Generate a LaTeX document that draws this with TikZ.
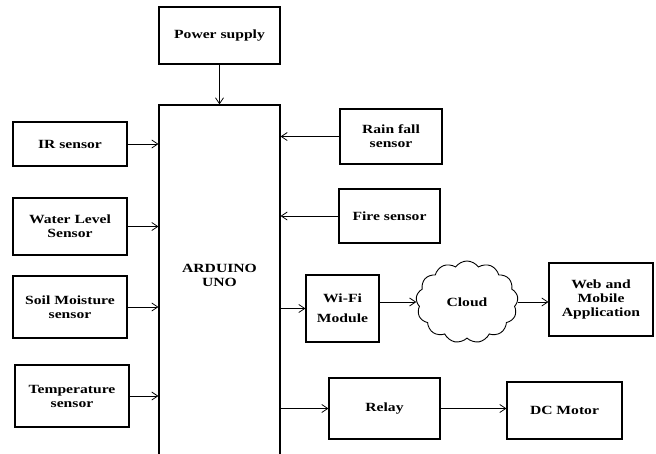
\documentclass[tikz,border=0pt]{standalone}
\usepackage{fontspec}
\setmainfont{Liberation Serif}[FakeStretch=1.25]
\usepackage{tikz}
\usetikzlibrary{shapes.symbols,arrows.meta}
\tikzstyle{blk} = [draw=black, line width=1.1pt, rectangle, align=center, font={\fontsize{12.5}{14}\selectfont\bfseries}, inner sep=2pt]
\tikzstyle{cld} = [draw=black, line width=0.9pt, cloud, cloud puffs=13, cloud puff arc=110, aspect=1.3, align=center, font={\fontsize{12.5}{14}\selectfont\bfseries}, inner sep=0pt]
\tikzstyle{sig} = [draw=black, line width=0.8pt, -{Straight Barb[length=6pt,width=8pt]}]

\begin{document}
\begin{tikzpicture}[x=1pt,y=-1pt]
        \useasboundingbox (0,0) rectangle (656,453);
        \node[blk,minimum width=121,minimum height=57](ps) at (219.5,35.5){Power supply};
        \node[blk,minimum width=121,minimum height=360,label={[align=center,font={\fontsize{12.5}{14}\selectfont\bfseries},yshift=10pt]center:ARDUINO\\UNO}](ard) at (219.5,285){};
        \node[blk,minimum width=114,minimum height=44](ir) at (70,144){IR sensor};
        \node[blk,minimum width=114,minimum height=57](wl) at (70,226.5){Water Level\\Sensor};
        \node[blk,minimum width=114,minimum height=62](soil) at (70,307){Soil Moisture\\sensor};
        \node[blk,minimum width=114,minimum height=62](temp) at (72,396){Temperature\\sensor};
        \node[blk,minimum width=102,minimum height=55](rain) at (391,136.5){Rain fall\\sensor};
        \node[blk,minimum width=101,minimum height=54](fire) at (389.5,216){Fire sensor};
        \node[blk,minimum width=73,minimum height=67](wifi) at (342.5,308.5){Wi-Fi\\[6pt]Module};
        \node[cld,minimum width=102,minimum height=82](cloud) at (467,302){Cloud};
        \node[blk,minimum width=104,minimum height=73](web) at (601,299.5){Web and\\Mobile\\Application};
        \node[blk,minimum width=111,minimum height=61](relay) at (384.5,408.5){Relay};
        \node[blk,minimum width=115,minimum height=57](dc) at (564.5,410.5){DC Motor};
        \draw[sig](ps)--(ard);
        \draw[sig](ir.east)--(ir.east -| ard.west);
        \draw[sig](wl.east)--(wl.east -| ard.west);
        \draw[sig](soil.east)--(soil.east -| ard.west);
        \draw[sig](temp.east)--(temp.east -| ard.west);
        \draw[sig](rain.west)--(rain.west -| ard.east);
        \draw[sig](fire.west)--(fire.west -| ard.east);
        \draw[sig](wifi.west -| ard.east)--(wifi.west);
        \draw[sig](cloud.west -| wifi.east)--(cloud.west);
        \draw[sig](cloud.east)--(cloud.east -| web.west);
        \draw[sig](relay.west -| ard.east)--(relay.west);
        \draw[sig](relay.east)--(relay.east -| dc.west);
      \end{tikzpicture}
\end{document}
